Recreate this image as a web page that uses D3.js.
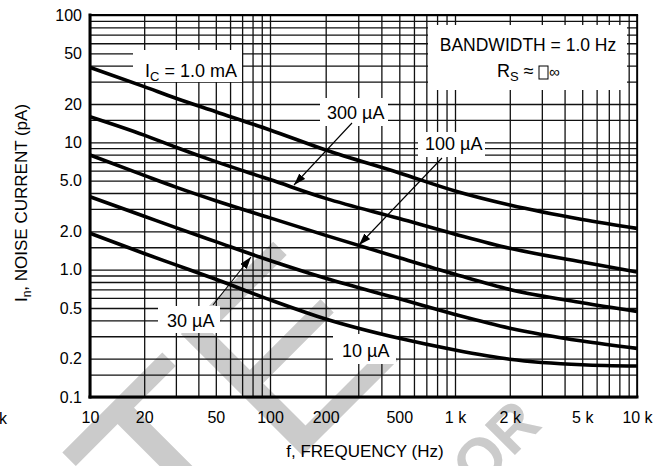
<!DOCTYPE html>
<html><head><meta charset="utf-8">
<script src="https://cdn.jsdelivr.net/npm/d3@7"></script>
<style>
body{margin:0;background:#fff}
svg{display:block;font-family:"Liberation Sans",Arial,Helvetica,sans-serif}
</style>
</head><body>
<svg id="c" width="671" height="466"></svg>
<script>
// ---- data ----
const freqs = [10, 20, 30, 50, 100, 200, 500, 1000, 2000, 5000, 10000];
const i1mA   = [38.8, 27.4, 22.2, 17.4, 12.5, 8.7, 5.75, 4.15, 3.22, 2.48, 2.11];
const i300uA = [15.9, 11.4, 9.15, 7.05, 5.1, 3.63, 2.52, 1.9, 1.47, 1.15, 0.96];
const i100uA = [7.95, 5.5, 4.45, 3.48, 2.55, 1.86, 1.24, 0.92, 0.70, 0.55, 0.47];
const i30uA  = [3.74, 2.63, 2.14, 1.66, 1.18, 0.855, 0.59, 0.445, 0.347, 0.275, 0.241];
const i10uA  = [1.93, 1.34, 1.09, 0.84, 0.58, 0.41, 0.289, 0.234, 0.198, 0.179, 0.175];
const seriesNames = ["1.0 mA", "300 µA", "100 µA", "30 µA", "10 µA"];
const xTickValues = [10, 20, 50, 100, 200, 500, 1000, 2000, 5000, 10000];
const xTickLabels = ["10", "20", "50", "100", "200", "500", "1 k", "2 k", "5 k", "10 k"];
const yTickValues = [0.1, 0.2, 0.5, 1, 2, 5, 10, 20, 50, 100];
const yTickLabels = ["0.1", "0.2", "0.5", "1.0", "2.0", "5.0", "10", "20", "50", "100"];
const gridMantissasX = [1, 2, 3, 4, 5, 6, 7, 8, 9];
const gridMantissasY = [1, 1.5, 2, 3, 4, 5, 6, 7, 8, 9];

const series = [i1mA, i300uA, i100uA, i30uA, i10uA].map((vals, k) => ({
  name: seriesNames[k], pts: freqs.map((f, i) => ({f, v: vals[i]}))
}));

// ---- layout ----
const L = 90, R = 637, T = 15, B = 397;
const svg = d3.select("#c");
const x = d3.scaleLog().domain([10, 100, 1000, 10000]).range([L, 270, 455, R]);
const y = d3.scaleLog().domain([0.1, 100]).range([B, T]);

// watermark (behind everything)
const wm = svg.append("g").attr("fill", "#cbcbcb");
wm.append("text").attr("transform", "translate(180,578) rotate(-45)")
  .attr("font-size", 250).text("TE");
wm.append("text").attr("transform", "translate(478,492) rotate(-45)")
  .attr("font-size", 62).attr("font-weight", "bold").text("OR");

// grid
const xGrid = [];
[10, 100, 1000].forEach(d => gridMantissasX.forEach(m => xGrid.push(d * m)));
xGrid.push(10000);
const yGrid = [];
[0.1, 1, 10].forEach(d => gridMantissasY.forEach(m => yGrid.push(+(d * m).toPrecision(3))));
yGrid.push(100);

const gx = svg.append("g").attr("transform", `translate(0,${B})`)
  .call(d3.axisBottom(x).tickValues(xGrid).tickSize(-(B - T)).tickFormat(""));
const gy = svg.append("g").attr("transform", `translate(${L},0)`)
  .call(d3.axisLeft(y).tickValues(yGrid).tickSize(-(R - L)).tickFormat(""));
[gx, gy].forEach(g => {
  g.select(".domain").remove();
  g.selectAll(".tick line").attr("stroke", "#111").attr("stroke-width", 1.3);
});

// annotation boxes (cover the grid, below the curves)
const boxes = svg.append("g");
const box = (x0, y0, w, h) => boxes.append("rect").attr("x", x0).attr("y", y0)
  .attr("width", w).attr("height", h).attr("fill", "#fff");
box(133, 50, 109, 32);
box(428, 25, 199, 65);
box(320, 98, 68, 28);
box(418, 132, 67, 25);
box(158, 306, 62, 27);
box(333, 334, 63, 30);

// curves
const line = d3.line().x(d => x(d.f)).y(d => y(d.v)).curve(d3.curveMonotoneX);
svg.append("g").selectAll("path").data(series).join("path")
  .attr("d", d => line(d.pts)).attr("fill", "none")
  .attr("stroke", "#000").attr("stroke-width", 3.6).attr("stroke-linecap", "butt");

// frame
const fr = svg.append("g").attr("stroke", "#000").attr("stroke-linecap", "square");
fr.append("line").attr("x1", L).attr("x2", L).attr("y1", T).attr("y2", B).attr("stroke-width", 3);
fr.append("line").attr("x1", L).attr("x2", R).attr("y1", B).attr("y2", B).attr("stroke-width", 3);
fr.append("line").attr("x1", L).attr("x2", R).attr("y1", T).attr("y2", T).attr("stroke-width", 2.2);
fr.append("line").attr("x1", R).attr("x2", R).attr("y1", T).attr("y2", B).attr("stroke-width", 1.6);

// tick labels
const ax = svg.append("g").attr("transform", `translate(0,${B})`)
  .call(d3.axisBottom(x).tickValues(xTickValues).tickSize(0).tickPadding(15)
    .tickFormat((d, i) => xTickLabels[i]));
const ay = svg.append("g").attr("transform", `translate(${L},0)`)
  .call(d3.axisLeft(y).tickValues(yTickValues).tickSize(0).tickPadding(8)
    .tickFormat((d, i) => yTickLabels[i]));
[ax, ay].forEach(g => {
  g.select(".domain").remove();
  g.selectAll("text").attr("font-size", 16).attr("fill", "#000")
    .attr("font-family", "'Liberation Sans',Arial,sans-serif");
});

// axis titles
svg.append("text").attr("x", 365).attr("y", 457).attr("text-anchor", "middle")
  .attr("font-size", 17).text("f, FREQUENCY (Hz)");
const yt = svg.append("text").attr("transform", "translate(27,203) rotate(-90)")
  .attr("text-anchor", "middle").attr("font-size", 17);
yt.append("tspan").text("I");
yt.append("tspan").attr("font-size", 12).attr("dy", 4).text("n");
yt.append("tspan").attr("dy", -4).text(", NOISE CURRENT (pA)");

// stray cropped label at the far left
svg.append("text").attr("x", -1).attr("y", 424).attr("font-size", 16).text("k");

// arrows
const ann = svg.append("g");
const defs = svg.append("defs");
defs.append("marker").attr("id", "ah").attr("viewBox", "0 0 12 8")
  .attr("refX", 12).attr("refY", 4).attr("markerWidth", 12).attr("markerHeight", 8)
  .attr("markerUnits", "userSpaceOnUse").attr("orient", "auto")
  .append("path").attr("d", "M0,0 L12,4 L0,8 Z").attr("fill", "#000");
const arrow = (x1, y1, x2, y2) => ann.append("line").attr("x1", x1).attr("y1", y1)
  .attr("x2", x2).attr("y2", y2).attr("stroke", "#000").attr("stroke-width", 1.1)
  .attr("marker-end", "url(#ah)");
arrow(352, 123, 294, 185);
arrow(442, 158, 359, 245);
arrow(213, 305, 251, 257);

// annotation texts
const t1 = ann.append("text").attr("x", 145).attr("y", 77).attr("font-size", 18);
t1.append("tspan").text("I");
t1.append("tspan").attr("font-size", 13).attr("dy", 4).text("C");
t1.append("tspan").attr("dy", -4).text(" = 1.0 mA");

ann.append("text").attr("x", 528).attr("y", 51).attr("text-anchor", "middle")
  .attr("font-size", 17.5).text("BANDWIDTH = 1.0 Hz");
const t2 = ann.append("text").attr("x", 497).attr("y", 77).attr("font-size", 18);
t2.append("tspan").text("R");
t2.append("tspan").attr("font-size", 13).attr("dy", 4).text("S");
t2.append("tspan").attr("dy", -4).text(" ≈");
ann.append("rect").attr("x", 539).attr("y", 66).attr("width", 9).attr("height", 13)
  .attr("fill", "none").attr("stroke", "#000").attr("stroke-width", 1);
ann.append("text").attr("x", 549).attr("y", 77).attr("font-size", 15).text("∞");

const lab = (x0, y0, s) => ann.append("text").attr("x", x0).attr("y", y0)
  .attr("font-size", 18).text(s);
lab(327, 119, seriesNames[1]);
lab(425, 150, seriesNames[2]);
lab(167, 327, seriesNames[3]);
lab(342, 357, seriesNames[4]);
</script>
</body></html>
